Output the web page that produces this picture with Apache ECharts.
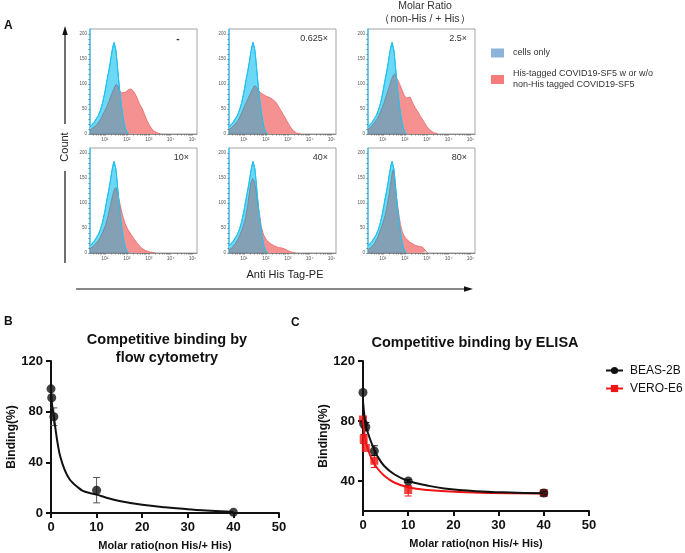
<!DOCTYPE html>
<html><head><meta charset="utf-8">
<script src="https://cdn.jsdelivr.net/npm/echarts@6/dist/echarts.min.js"></script>
<style>html,body{margin:0;padding:0;background:#fff}#c{width:685px;height:553px}</style>
</head><body><div id="c"></div>
<script>
// ---------------- DATA ----------------
// Panel A: flow cytometry histograms, x = log10(Anti His Tag-PE), y = count
const histLabels = ['-', '0.625×', '2.5×', '10×', '40×', '80×'];
const histDecades = [1, 2, 3, 4, 5];
const countTicks = [0, 50, 100, 150, 200];
const cellsOnly = [[0.32,14],[0.40,17],[0.50,23],[0.60,30],[0.70,37],[0.80,48],[0.90,63],[1.00,84],[1.08,104],[1.16,122],[1.24,142],[1.31,162],[1.37,176],[1.42,183],[1.46,181],[1.50,168],[1.55,146],[1.61,116],[1.68,84],[1.76,54],[1.84,30],[1.92,12],[2.00,4],[2.08,0]];
const hisNone = [[0.32,8],[0.45,12],[0.62,18],[0.77,27],[0.92,40],[1.08,54],[1.23,71],[1.38,88],[1.50,99],[1.58,97],[1.66,88],[1.75,82],[1.84,80],[1.95,84],[2.08,89],[2.18,90],[2.28,87],[2.38,80],[2.47,72],[2.58,60],[2.70,51],[2.82,38],[2.92,27],[3.05,16],[3.20,7],[3.35,3],[3.55,0]];
const his0625 = [[0.32,9],[0.45,13],[0.60,20],[0.75,28],[0.90,42],[1.05,58],[1.20,72],[1.35,86],[1.47,96],[1.55,95],[1.65,88],[1.78,82],[1.92,78],[2.05,75],[2.18,73],[2.32,69],[2.45,64],[2.58,55],[2.70,46],[2.82,37],[2.95,27],[3.08,17],[3.22,8],[3.40,2],[3.60,0]];
const his25 = [[0.32,10],[0.45,14],[0.60,22],[0.75,31],[0.90,45],[1.05,62],[1.18,80],[1.30,96],[1.40,110],[1.48,118],[1.54,120],[1.62,113],[1.72,104],[1.84,92],[1.96,78],[2.06,72],[2.14,75],[2.24,74],[2.35,63],[2.48,52],[2.60,44],[2.72,35],[2.85,26],[3.00,15],[3.15,8],[3.30,3],[3.50,0]];
const his10 = [[0.32,9],[0.45,13],[0.62,20],[0.78,30],[0.90,42],[1.03,56],[1.15,75],[1.25,95],[1.35,115],[1.44,128],[1.50,131],[1.57,124],[1.65,106],[1.74,88],[1.84,70],[1.93,58],[2.05,47],[2.18,38],[2.32,29],[2.45,21],[2.58,14],[2.70,9],[2.85,5],[3.05,2],[3.30,0]];
const his40 = [[0.32,7],[0.45,10],[0.60,18],[0.76,30],[0.90,45],[1.05,66],[1.17,95],[1.26,125],[1.33,143],[1.40,149],[1.47,144],[1.55,126],[1.63,100],[1.71,78],[1.80,52],[1.90,36],[2.03,26],[2.20,19],[2.40,14],[2.58,11],[2.74,10],[2.86,8],[3.00,5],[3.15,2],[3.35,0]];
const his80 = [[0.32,7],[0.45,11],[0.60,18],[0.75,30],[0.88,45],[1.00,60],[1.10,75],[1.20,96],[1.28,117],[1.36,142],[1.42,160],[1.46,166],[1.51,158],[1.57,132],[1.64,104],[1.72,80],[1.80,57],[1.90,40],[2.03,30],[2.22,22],[2.45,16],[2.65,13],[2.80,12],[2.88,9],[2.96,4],[3.05,0]];
const hisPanels = [hisNone, his0625, his25, his10, his40, his80];

// Panel B: flow cytometry competitive binding
const bX = [0, 0.156, 0.625, 10, 40];
const bY = [98, 91, 76, 18, 0.5];
const bErr = [[0.625, 69, 83], [10, 8, 28]];
const bFit = [[0,95],[0.25,85],[0.625,76],[1,66],[1.5,54],[2,45],[3,34],[4,27],[5,23],[6,20],[7,17.5],[8.5,15.8],[10,14.5],[12,12.2],[15,9.5],[20,6.5],[25,4.5],[30,3],[35,1.7],[40,0.8]];

// Panel C: ELISA competitive binding
const cX = [0, 0.156, 0.625, 2.5, 10, 40];
const beasY = [99, 78, 76, 60, 40, 32];
const veroY = [81, 68, 62, 53.5, 34, 32];
const beasErr = [[0.625, 73.5, 79], [2.5, 57, 63.5], [10, 39, 41], [40, 31, 33]];
const veroErr = [[0.156, 65, 71], [2.5, 49, 57], [10, 30, 37], [40, 30.5, 33]];
const beasFit = [[0,93],[0.3,84],[0.625,77],[1.1,72],[1.8,66],[2.5,61],[3.3,56],[4.7,50],[6.9,44.5],[10,40],[14.2,37],[18,35],[25,33.2],[32.5,32.3],[40,31.8]];
const veroFit = [[0,81],[0.3,72],[0.73,65],[1.46,58],[2.2,53],[3.3,48],[4.7,43.5],[6.9,39],[10,35.8],[14.2,34],[21.5,32.6],[28.8,32],[40,31.6]];
const cYTicks = [40, 80, 120];

// ---------------- CHART ----------------
const F = '"Liberation Sans", Arial, Helvetica, sans-serif';
const chart = echarts.init(document.getElementById('c'), null, {renderer: 'canvas'});
const panelLeft = [90, 229, 368, 90, 229, 368];
const panelTop = [29, 29, 29, 148, 148, 148];
const PW = 107, PH = 105;
const sup = {1: '¹', 2: '²', 3: '³', 4: '⁴', 5: '⁵'};
const cellsName = 'cells only';
const hisName = 'His-tagged COVID19-SF5 w or w/o\nnon-His tagged COVID19-SF5';

// log minor tick positions and count minor ticks
const logTicks = [];
for (let n = 0; n <= 5; n++) for (let m = 1; m <= 9; m++) { const v = n + Math.log10(m); if (v >= 0.32 && v <= 5.2) logTicks.push(v); }
const countMinor = []; for (let v = 0; v <= 200; v += 10) countMinor.push(v);

const grid = [], xAxis = [], yAxis = [], series = [], title = [];
const zip = (xs, ys) => xs.map((x, i) => [x, ys[i]]);

for (let i = 0; i < 6; i++) {
  grid.push({left: panelLeft[i], top: panelTop[i], width: PW, height: PH, show: true, borderColor: '#a3a3a3', borderWidth: 1});
  xAxis.push({type: 'value', gridIndex: i, min: 0.32, max: 5.2, splitLine: {show: false},
    axisLine: {show: true, onZero: false, lineStyle: {color: '#777', width: 0.8}},
    axisTick: {show: true, customValues: logTicks, length: 1.6, lineStyle: {color: '#666', width: 0.6}},
    axisLabel: {customValues: histDecades, formatter: v => '10' + sup[v], fontSize: 5, color: '#555', margin: 3, fontFamily: F}});
  yAxis.push({type: 'value', gridIndex: i, min: 0, max: 210, splitLine: {show: false},
    axisLine: {show: true, onZero: false, lineStyle: {color: '#3ec8f0', width: 1.5}},
    axisTick: {show: true, customValues: countMinor, length: 1.8, lineStyle: {color: '#666', width: 0.6}},
    axisLabel: {customValues: countTicks, fontSize: 4.5, color: '#555', margin: 3, fontFamily: F}});
  const red = hisPanels[i];
  series.push({type: 'line', name: hisName, xAxisIndex: i, yAxisIndex: i, data: red, symbol: 'none', silent: true, z: 2,
    lineStyle: {color: '#e56a6a', width: 0.8}, areaStyle: {color: '#f59191', opacity: 1}, itemStyle: {color: '#f67b7b'}});
  series.push({type: 'line', name: cellsName, xAxisIndex: i, yAxisIndex: i, data: cellsOnly, symbol: 'none', silent: true, z: 3,
    lineStyle: {color: '#22c1ee', width: 1}, areaStyle: {color: '#6cd8f6', opacity: 1}, itemStyle: {color: '#8db3d9'}});
  series.push({type: 'custom', xAxisIndex: i, yAxisIndex: i, data: red, silent: true, z: 4,
    renderItem: (params, api) => {
      if (params.dataIndex !== 0) return null;
      const poly = arr => [api.coord([arr[0][0], 0])].concat(arr.map(d => api.coord(d)), [api.coord([arr[arr.length - 1][0], 0])]);
      return {type: 'polygon', shape: {points: poly(red)},
        style: {fill: '#84a0b5', stroke: '#6b8497', lineWidth: 0.8},
        clipPath: {type: 'polygon', shape: {points: poly(cellsOnly)}}};
    }});
  series.push({type: 'line', xAxisIndex: i, yAxisIndex: i, data: cellsOnly, symbol: 'none', silent: true, z: 5,
    lineStyle: {color: '#22c1ee', width: 1}});
  const lblX = i === 0 ? 178 : panelLeft[i] + PW - 8;
  title.push({text: histLabels[i], left: lblX, top: panelTop[i] + 5, padding: 0, textAlign: i === 0 ? 'center' : 'right',
    textStyle: {fontSize: i === 0 ? 10 : 9, fontWeight: i === 0 ? 'bold' : 'normal', color: '#333', fontFamily: F}});
}

// Panels B and C grids
grid.push({left: 51, top: 361, width: 228, height: 152});
grid.push({left: 363, top: 361, width: 226, height: 150});
const bcAxisLine = {show: true, onZero: false, lineStyle: {color: '#111', width: 2}};
const bcTick = {show: true, length: 5, lineStyle: {color: '#111', width: 2}};
const bcLabel = {fontSize: 13, fontWeight: 'bold', color: '#111', fontFamily: F, margin: 8};
const xName = 'Molar ratio(non His/+ His)';
const nameStyleX = {fontSize: 11, fontWeight: 'bold', color: '#111', fontFamily: F};
const nameStyleY = {fontSize: 12, fontWeight: 'bold', color: '#111', fontFamily: F};
[6, 7].forEach(g => {
  xAxis.push({type: 'value', gridIndex: g, min: 0, max: 50, interval: 10, splitLine: {show: false},
    axisLine: bcAxisLine, axisTick: bcTick, axisLabel: bcLabel,
    name: xName, nameLocation: 'middle', nameGap: 27, nameTextStyle: nameStyleX});
});
yAxis.push({type: 'value', gridIndex: 6, min: 0, max: 120, interval: 40, splitLine: {show: false},
  axisLine: bcAxisLine, axisTick: bcTick, axisLabel: bcLabel,
  name: 'Binding(%)', nameLocation: 'middle', nameGap: 32, nameTextStyle: nameStyleY});
yAxis.push({type: 'value', gridIndex: 7, min: 20, max: 120, splitLine: {show: false},
  axisLine: bcAxisLine, axisTick: Object.assign({}, bcTick, {customValues: cYTicks}),
  axisLabel: Object.assign({}, bcLabel, {customValues: cYTicks}),
  name: 'Binding(%)', nameLocation: 'middle', nameGap: 30, nameTextStyle: nameStyleY});

function errSeries(axis, data, color) {
  return {type: 'custom', xAxisIndex: axis, yAxisIndex: axis, data: data, silent: true, encode: {x: 0, y: [1, 2]},
    renderItem: (params, api) => {
      const x = api.value(0);
      const lo = api.coord([x, api.value(1)]), hi = api.coord([x, api.value(2)]);
      const w = 3.5, st = {stroke: color, lineWidth: 1};
      return {type: 'group', children: [
        {type: 'line', shape: {x1: lo[0], y1: lo[1], x2: hi[0], y2: hi[1]}, style: st},
        {type: 'line', shape: {x1: lo[0] - w, y1: lo[1], x2: lo[0] + w, y2: lo[1]}, style: st},
        {type: 'line', shape: {x1: hi[0] - w, y1: hi[1], x2: hi[0] + w, y2: hi[1]}, style: st}]};
    }};
}

// B
series.push({type: 'line', xAxisIndex: 6, yAxisIndex: 6, data: bFit, smooth: 0.4, symbol: 'none', silent: true,
  lineStyle: {color: '#111', width: 2}});
series.push(errSeries(6, bErr, '#555'));
series.push({type: 'scatter', xAxisIndex: 6, yAxisIndex: 6, data: zip(bX, bY), symbol: 'circle', symbolSize: 9, silent: true,
  itemStyle: {color: '#111'}});
// C
series.push({type: 'line', name: 'VERO-E6', xAxisIndex: 7, yAxisIndex: 7, data: veroFit, smooth: 0.4, symbol: 'rect', symbolSize: 8, showSymbol: false, silent: true,
  lineStyle: {color: '#f01414', width: 2}, itemStyle: {color: '#f01414'}});
series.push({type: 'line', name: 'BEAS-2B', xAxisIndex: 7, yAxisIndex: 7, data: beasFit, smooth: 0.4, symbol: 'circle', symbolSize: 8, showSymbol: false, silent: true,
  lineStyle: {color: '#111', width: 2}, itemStyle: {color: '#111'}});
series.push(errSeries(7, veroErr, '#f01414'));
series.push(errSeries(7, beasErr, '#111'));
series.push({type: 'scatter', xAxisIndex: 7, yAxisIndex: 7, data: zip(cX, veroY), symbol: 'rect', symbolSize: 8, silent: true,
  itemStyle: {color: '#f01414'}});
series.push({type: 'scatter', xAxisIndex: 7, yAxisIndex: 7, data: zip(cX, beasY), symbol: 'circle', symbolSize: 9, silent: true,
  itemStyle: {color: '#111'}});

title.push(
  {text: 'A', left: 4, top: 20, padding: 0, textStyle: {fontSize: 12, fontWeight: 'bold', color: '#111', fontFamily: F}},
  {text: 'Molar Ratio\n（non-His / + His）', left: 425, top: 0, padding: 0, textAlign: 'center',
    textStyle: {fontSize: 10.5, fontWeight: 'normal', color: '#333', lineHeight: 12.5, fontFamily: F}},
  {text: 'B', left: 4, top: 316, padding: 0, textStyle: {fontSize: 12, fontWeight: 'bold', color: '#111', fontFamily: F}},
  {text: 'C', left: 291, top: 317, padding: 0, textStyle: {fontSize: 12, fontWeight: 'bold', color: '#111', fontFamily: F}},
  {text: 'Competitive binding by\nflow cytometry', left: 167, top: 331, padding: 0, textAlign: 'center',
    textStyle: {fontSize: 14.5, fontWeight: 'bold', color: '#111', lineHeight: 18, fontFamily: F}},
  {text: 'Competitive binding by ELISA', left: 475, top: 335, padding: 0, textAlign: 'center',
    textStyle: {fontSize: 14.5, fontWeight: 'bold', color: '#111', fontFamily: F}}
);

const option = {
  backgroundColor: '#fff',
  animation: false,
  title: title,
  legend: [
    {orient: 'vertical', left: 491, top: 47.5, padding: 0, itemWidth: 13, itemHeight: 9, itemGap: 10, icon: 'rect', selectedMode: false,
      textStyle: {fontSize: 9, color: '#333', fontFamily: F, lineHeight: 11, padding: [0, 0, 0, 4]},
      data: [{name: cellsName, itemStyle: {color: '#8db3d9', borderWidth: 0}}, {name: hisName, itemStyle: {color: '#f67b7b', borderWidth: 0}}]},
    {orient: 'vertical', left: 605, top: 363, padding: 0, itemWidth: 17, itemHeight: 9, itemGap: 3, selectedMode: false,
      textStyle: {fontSize: 12, color: '#111', fontFamily: F, lineHeight: 15, padding: [0, 0, 0, 2]},
      data: ['BEAS-2B', 'VERO-E6']}
  ],
  grid: grid, xAxis: xAxis, yAxis: yAxis, series: series,
  graphic: [
    {type: 'line', shape: {x1: 65, y1: 33, x2: 65, y2: 124}, style: {stroke: '#111', lineWidth: 1.2}},
    {type: 'line', shape: {x1: 65, y1: 171, x2: 65, y2: 263}, style: {stroke: '#111', lineWidth: 1.2}},
    {type: 'polygon', shape: {points: [[65, 26], [62.3, 35], [67.7, 35]]}, style: {fill: '#111'}},
    {type: 'text', x: 65, y: 147, rotation: Math.PI / 2,
      style: {text: 'Count', fontSize: 11, fontFamily: F, fill: '#222', textAlign: 'center', textVerticalAlign: 'middle'}},
    {type: 'text', x: 285, y: 275,
      style: {text: 'Anti His Tag-PE', fontSize: 11, fontFamily: F, fill: '#222', textAlign: 'center', textVerticalAlign: 'middle'}},
    {type: 'line', shape: {x1: 76, y1: 289, x2: 466, y2: 289}, style: {stroke: '#111', lineWidth: 1.2}},
    {type: 'polygon', shape: {points: [[473, 289], [464, 286.3], [464, 291.7]]}, style: {fill: '#111'}}
  ]
};
chart.setOption(option);
</script>
</body></html>
